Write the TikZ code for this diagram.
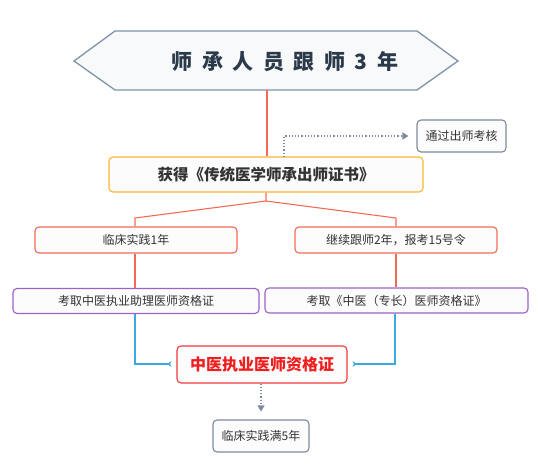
\documentclass[tikz,border=0pt]{standalone}
\usepackage{fontspec}
\setmainfont{Noto Sans CJK SC}
\newfontfamily\cjk{Noto Sans CJK SC}
\usetikzlibrary{arrows.meta}
\definecolor{hexline}{HTML}{7F93A8}
\definecolor{hexfill}{HTML}{F8F9FA}
\definecolor{titletext}{HTML}{2B3A4A}
\definecolor{redline}{HTML}{F26B55}
\definecolor{orangebox}{HTML}{F8B631}
\definecolor{purplebox}{HTML}{9C62C9}
\definecolor{blueline}{HTML}{3AA9E0}
\definecolor{docred}{HTML}{F03A3A}
\definecolor{doctext}{HTML}{F01E1E}
\definecolor{graybox}{HTML}{7D8A9C}
\definecolor{boxfill}{HTML}{FCFCFC}
\definecolor{bodytext}{HTML}{333333}
\tikzset{
  basebox/.style={rounded corners=4pt, fill=boxfill, line width=1.1pt, inner sep=0pt, text=bodytext, font=\cjk\fontsize{12}{14}\selectfont},
  redbox/.style={basebox, draw=redline},
  purplebx/.style={basebox, draw=purplebox},
  graybx/.style={basebox, draw=graybox},
  redconn/.style={draw=redline, line width=1.1pt},
  blueconn/.style={draw=blueline, line width=1.4pt, -{Stealth[reversed,length=4pt,width=6pt]}},
  dotconn/.style={draw=graybox, line width=1.2pt, dotted, -{Triangle[length=6pt,width=7pt]}}
}
\begin{document}
\begin{tikzpicture}[x=1pt,y=-1pt]
\useasboundingbox (0,0) rectangle (538,468);
% hexagon
\draw[draw=hexline, fill=hexfill, line width=1.3pt] (74,61)--(115,31)--(417,31)--(458,61)--(417,90)--(115,90)--cycle;
\node[font=\cjk\bfseries\fontsize{21}{25}\selectfont, text=titletext, inner sep=0pt] (hex) at (285,62)
  {师\hspace{9.5pt}承\hspace{9.5pt}人\hspace{9.5pt}员\hspace{9.5pt}跟\hspace{9.5pt}师\hspace{9.5pt}3\hspace{9.5pt}年};
\coordinate (hexb) at (267,90);
% boxes
\node[basebox, draw=orangebox, minimum width=314pt, minimum height=35pt, font=\cjk\bfseries\fontsize{15.5}{18}\selectfont] (cert) at (266,174.5) {获得《传统医学师承出师证书》};
\node[graybx, minimum width=89pt, minimum height=32pt] (pass) at (461.5,136) {通过出师考核};
\node[redbox, minimum width=202pt, minimum height=26pt] (clin) at (136,240) {临床实践1年};
\node[redbox, minimum width=202pt, minimum height=26pt] (cont) at (396,240) {继续跟师2年，报考15号令};
\node[purplebx, minimum width=246pt, minimum height=25pt] (asst) at (136,301) {考取中医执业助理医师资格证};
\node[purplebx, minimum width=263pt, minimum height=25pt] (spec) at (396.5,300.5) {考取《中医（专长）医师资格证》};
\node[basebox, draw=docred, minimum width=170pt, minimum height=37pt, text=doctext, font=\cjk\bfseries\fontsize{16}{19}\selectfont] (doc) at (262,364.5) {中医执业医师资格证};
\node[graybx, minimum width=96pt, minimum height=32pt] (five) at (261,436) {临床实践满5年};
% connectors
\draw[redconn, line width=1.5pt] (hexb) -- (hexb |- cert.north);
\coordinate (split) at (266,201);
\coordinate (lk) at (135,218);
\coordinate (rk) at (396,218);
\draw[redconn] (cert.south -| split) -- (split) -- (lk) -- (lk |- clin.north);
\draw[redconn] (split) -- (rk) -- (rk |- cont.north);
\draw[redconn] (lk |- clin.south) -- (lk |- asst.north);
\draw[redconn] (rk |- cont.south) -- (rk |- spec.north);
\coordinate (dstart) at (284,157);
\draw[dotconn, shorten >=8pt] (dstart) |- (pass.west);
\coordinate (lb) at (135,364);
\coordinate (rb) at (395,364);
\draw[blueconn, shorten >=5pt] (lb |- asst.south) -- (lb) -- (doc.west |- lb);
\draw[blueconn, shorten >=5pt] (rb |- spec.south) -- (rb) -- (doc.east |- rb);
\draw[dotconn, shorten >=8pt] (doc.south -| five.north) -- (five.north);
\end{tikzpicture}
\end{document}
